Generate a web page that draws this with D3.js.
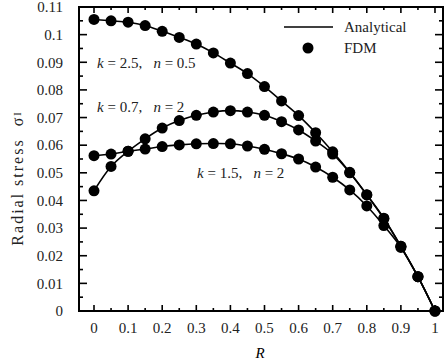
<!DOCTYPE html>
<html lang="en">
<head>
<meta charset="UTF-8">
<title>Radial stress</title>
<script src="https://cdn.jsdelivr.net/npm/d3@7"></script>
<style>
  body { margin: 0; background: #fff; }
  svg { display: block; font-family: "Liberation Serif", "Times New Roman", serif; }
</style>
</head>
<body>
<svg></svg>
<script>
    // radius ratio R (FDM nodes)
    const radius = [0, 0.05, 0.1, 0.15, 0.2, 0.25, 0.3, 0.35, 0.4, 0.45, 0.5,
                    0.55, 0.6, 0.65, 0.7, 0.75, 0.8, 0.85, 0.9, 0.95, 1];
    // radial stress for each case
    const stressK25 = [0.1055, 0.1050, 0.1045, 0.1033, 0.1012, 0.0990, 0.0966, 0.0934, 0.0897, 0.0859, 0.0812,
                       0.0760, 0.0707, 0.0645, 0.0576, 0.0502, 0.0421, 0.0336, 0.0234, 0.0124, 0];
    const stressK07 = [0.0435, 0.0523, 0.0578, 0.0623, 0.0662, 0.0689, 0.0708, 0.0720, 0.0725, 0.0720, 0.0708,
                       0.0685, 0.0655, 0.0615, 0.0568, 0.0500, 0.0420, 0.0334, 0.0234, 0.0124, 0];
    const stressK15 = [0.0562, 0.0568, 0.0578, 0.0586, 0.0595, 0.0601, 0.0605, 0.0606, 0.0605, 0.0597, 0.0585,
                       0.0569, 0.0550, 0.0521, 0.0484, 0.0438, 0.0380, 0.0309, 0.0230, 0.0124, 0];
    const seriesLabels = [['2.5', '0.5'], ['0.7', '2'], ['1.5', '2']];
    const xTicks = [0, 0.1, 0.2, 0.3, 0.4, 0.5, 0.6, 0.7, 0.8, 0.9, 1];
    const yTicks = [0, 0.01, 0.02, 0.03, 0.04, 0.05, 0.06, 0.07, 0.08, 0.09, 0.1, 0.11];

    const width = 448, height = 362;
    const plotLeft = 79, plotRight = 443, plotTop = 7, plotBottom = 311;

    const svg = d3.select('svg').attr('width', width).attr('height', height);

    const x = d3.scaleLinear().domain([-0.044, 1.0235]).range([plotLeft, plotRight]);
    const y = d3.scaleLinear().domain([0, 0.11]).range([plotBottom, plotTop]);

    // minor ticks halfway between the major ones
    const xMinor = xTicks.slice(0, -1).map(d => d + 0.05);
    const yMinor = yTicks.slice(0, -1).map(d => d + 0.005);

    const axes = svg.append('g').attr('stroke', '#000').attr('stroke-width', 1.6);
    // ticks point inward on all four sides
    [[xTicks, 6], [xMinor, 3]].forEach(([ticks, len]) => {
        axes.selectAll(null).data(ticks).join('line')
            .attr('x1', d => x(d)).attr('x2', d => x(d))
            .attr('y1', plotBottom).attr('y2', plotBottom - len);
        axes.selectAll(null).data(ticks).join('line')
            .attr('x1', d => x(d)).attr('x2', d => x(d))
            .attr('y1', plotTop).attr('y2', plotTop + len);
    });
    [[yTicks, 8], [yMinor, 4]].forEach(([ticks, len]) => {
        axes.selectAll(null).data(ticks).join('line')
            .attr('y1', d => y(d)).attr('y2', d => y(d))
            .attr('x1', plotLeft).attr('x2', plotLeft + len);
        axes.selectAll(null).data(ticks).join('line')
            .attr('y1', d => y(d)).attr('y2', d => y(d))
            .attr('x1', plotRight).attr('x2', plotRight - len);
    });
    svg.append('rect')
        .attr('x', plotLeft).attr('y', plotTop)
        .attr('width', plotRight - plotLeft).attr('height', plotBottom - plotTop)
        .attr('fill', 'none').attr('stroke', '#000').attr('stroke-width', 2);

    // tick labels
    svg.append('g').selectAll('text').data(xTicks).join('text')
        .attr('x', d => x(d)).attr('y', 333)
        .attr('text-anchor', 'middle').attr('font-size', 15).attr('fill', '#222')
        .text(d => d3.format('~g')(d));
    svg.append('g').selectAll('text').data(yTicks).join('text')
        .attr('x', 63).attr('y', d => y(d)).attr('dy', '0.35em')
        .attr('text-anchor', 'end').attr('font-size', 15).attr('fill', '#222')
        .text(d => d3.format('~g')(d));

    // axis titles
    svg.append('text')
        .attr('x', 260).attr('y', 358)
        .attr('text-anchor', 'middle').attr('font-size', 15).attr('font-style', 'italic')
        .text('R');
    const yTitle = svg.append('text')
        .attr('transform', 'translate(23, 178) rotate(-90)')
        .attr('text-anchor', 'middle').attr('font-size', 16).attr('fill', '#222')
        .attr('letter-spacing', 2)
        .attr('xml:space', 'preserve');
    yTitle.append('tspan').text('Radial stress  σ');
    yTitle.append('tspan').attr('font-size', 10).attr('dy', -2).text('I');

    // analytical curves + FDM markers
    const series = [stressK25, stressK07, stressK15];
    const line = d3.line()
        .x((d, i) => x(radius[i]))
        .y(d => y(d))
        .curve(d3.curveCatmullRom);

    series.forEach(values => {
        svg.append('path')
            .attr('d', line(values))
            .attr('fill', 'none').attr('stroke', '#000').attr('stroke-width', 1.6);
        svg.append('g').selectAll('circle').data(values).join('circle')
            .attr('cx', (d, i) => x(radius[i]))
            .attr('cy', d => y(d))
            .attr('r', 5.5)
            .attr('fill', '#000');
    });

    // case annotations
    const notePos = [[97, 68], [97, 112], [197, 178]];
    seriesLabels.forEach(([k, n], i) => {
        const t = svg.append('text')
            .attr('x', notePos[i][0]).attr('y', notePos[i][1])
            .attr('font-size', 15).attr('fill', '#222')
            .attr('xml:space', 'preserve');
        t.append('tspan').attr('font-style', 'italic').text('k');
        t.append('tspan').text(` = ${k},   `);
        t.append('tspan').attr('font-style', 'italic').text('n');
        t.append('tspan').text(` = ${n}`);
    });

    // legend
    const legend = svg.append('g');
    legend.append('line')
        .attr('x1', 284).attr('x2', 333).attr('y1', 27).attr('y2', 27)
        .attr('stroke', '#000').attr('stroke-width', 1.6);
    legend.append('circle').attr('cx', 308).attr('cy', 48).attr('r', 5.5).attr('fill', '#000');
    legend.selectAll('text').data(['Analytical', 'FDM']).join('text')
        .attr('x', 344).attr('y', (d, i) => 27 + i * 21).attr('dy', '0.35em')
        .attr('font-size', 15).attr('fill', '#222')
        .text(d => d);
</script>
</body>
</html>
